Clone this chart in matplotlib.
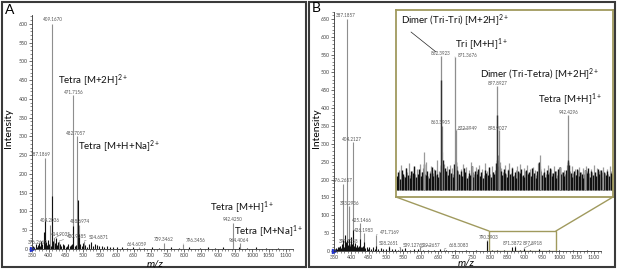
import matplotlib
matplotlib.use('Agg')
import matplotlib.pyplot as plt
from matplotlib.patches import Rectangle, ConnectionPatch
from matplotlib.ticker import MultipleLocator

plt.rcParams['font.family'] = ['Lato', 'DejaVu Sans']
plt.rcParams['mathtext.fontset'] = 'custom'
plt.rcParams['mathtext.rm'] = 'Lato'
plt.rcParams['mathtext.it'] = 'Lato:italic'

# ---- panel A data ----
A_lab_mz = [376.2669, 387.1869, 404.2036, 409.1670, 414.9035, 430.9185, 471.7156, 482.7057,
            488.6974, 504.6871, 664.6059, 739.3462, 796.3456, 942.4250, 964.4064]
A_lab_int = [8, 243, 65, 600, 28, 22, 410, 300, 64, 22, 5, 16, 14, 70, 16]
A_blk_mz = [353, 357, 361, 364, 368, 371, 374, 378, 381, 384, 387.2, 391, 395, 398, 401, 406, 409.2, 412, 417, 420,
            423, 426, 433, 437, 441, 445, 449, 453, 457, 461, 465, 468, 471.7, 476, 479, 484.7, 488.7, 493, 497, 501,
            507, 512, 518, 524, 531, 537, 543, 549, 556, 563, 571, 580, 590, 602, 615, 630, 648, 680, 705, 725,
            760, 785, 815, 845, 870, 890, 915, 960, 985, 1010, 1040, 1075]
A_blk_int = [8, 5, 12, 6, 10, 15, 9, 20, 14, 45, 75, 18, 10, 25, 12, 8, 140, 20, 15, 30,
             10, 18, 12, 8, 14, 10, 6, 9, 12, 7, 10, 14, 60, 8, 10, 130, 40, 12, 8, 15,
             10, 6, 12, 18, 8, 14, 10, 7, 9, 5, 8, 4, 6, 4, 5, 3, 4, 3, 4, 3,
             5, 3, 4, 3, 4, 3, 5, 4, 3, 4, 3, 3]
A_ions = ['Tetra [M+2H]$^{2+}$', 'Tetra [M+H+Na]$^{2+}$', 'Tetra [M+H]$^{1+}$', 'Tetra [M+Na]$^{1+}$']
A_ion_mz = [426.8, 485.8, 875.5, 946.4]
A_ion_int = [448, 272, 109, 45]

# ---- panel B data ----
B_lab_mz = [376.2657, 387.1857, 393.2936, 397.1758, 404.2127, 425.1466, 436.1983, 471.7169,
            508.2651, 539.1276, 599.2657, 668.3083, 790.3903, 871.3872, 897.8918]
B_lab_int = [188, 650, 126, 21, 305, 78, 50, 45, 15, 10, 10, 6, 30, 15, 8]
B_blk_mz = [352, 355, 358, 361, 364, 367, 370, 373, 376.3, 379, 382, 385, 387.2, 390, 393.3, 396, 399, 402, 404.2, 407,
            410, 413, 416, 419, 422, 425.1, 428, 431, 434, 436.2, 440, 444, 448, 452, 457, 462, 467, 471.7, 478, 485,
            492, 500, 508.3, 516, 525, 535, 545, 556, 568, 580, 593, 607, 622, 638, 655, 672, 700, 730, 760, 790.4,
            805, 820, 840, 862, 871.4, 885, 898, 915, 942, 970, 1000, 1040, 1080]
B_blk_int = [5, 8, 6, 12, 10, 15, 8, 20, 30, 12, 45, 25, 30, 18, 35, 14, 40, 20, 60, 15,
             22, 12, 18, 10, 14, 35, 12, 10, 15, 25, 8, 12, 6, 10, 7, 12, 5, 15, 6, 8,
             5, 7, 10, 5, 6, 4, 5, 8, 4, 6, 5, 3, 4, 3, 5, 3, 4, 3, 3, 29,
             4, 3, 4, 12, 12, 4, 5, 3, 6, 3, 3, 2, 3]

# ---- inset (800-1000 zoom) data, relative intensity ----
in_lab_mz = [862.3923, 863.3905, 871.3676, 872.3949, 897.8927, 898.9027, 942.4296]
in_lab_int = [134, 64, 133, 60, 104, 60, 75]
in_dark_mz = [862.3923, 897.8927, 942.4296]
in_dark_int = [110, 75, 30]
in_spike_mz = [852, 882, 924.7, 937, 953, 964]
in_spike_int = [38, 24, 35, 23, 20, 20]
noise_mz = list(range(835, 971))
noise_dark = [14, 18, 11, 20, 16, 13, 22, 15, 12, 19, 17, 24, 13, 16, 21, 14,
              18, 26, 15, 19, 12, 17, 23, 14, 20, 16, 13, 18, 25, 30, 22, 19,
              15, 21, 17, 13, 26, 28, 20, 16, 19, 14, 22, 18, 12, 17, 15, 24,
              13, 19, 16, 21, 14, 18, 12, 20, 17, 15, 23, 13, 18, 16, 27, 30,
              24, 19, 15, 21, 17, 13, 20, 16, 22, 14, 18, 12, 19, 17, 21, 15,
              13, 20, 16, 18, 14, 22, 17, 12, 19, 28, 21, 15, 18, 13, 20, 16,
              22, 14, 17, 19, 12, 21, 23, 16, 18, 14, 20, 28, 25, 17, 13, 19,
              15, 21, 14, 18, 16, 12, 20, 17, 22, 13, 19, 15, 18, 14, 21, 16,
              20, 13, 18, 15, 19, 14, 17, 16]
noise_mz_half = [m + 0.5 for m in noise_mz]
noise_gray = [12, 20, 25, 17, 14, 22, 18, 27, 15, 19, 23, 16, 21, 13, 26, 18,
              22, 16, 28, 14, 19, 24, 17, 21, 15, 30, 19, 23, 38, 26, 20, 24,
              18, 25, 22, 16, 29, 24, 19, 15, 21, 26, 17, 23, 14, 20, 28, 18,
              16, 23, 19, 25, 17, 21, 15, 27, 19, 22, 16, 24, 18, 20, 26, 35,
              28, 22, 18, 25, 16, 21, 27, 17, 23, 15, 20, 24, 18, 26, 14, 22,
              19, 25, 17, 21, 16, 23, 20, 15, 27, 24, 19, 17, 22, 16, 25, 18,
              21, 17, 24, 19, 15, 23, 22, 18, 20, 16, 25, 22, 19, 24, 17, 21,
              15, 20, 23, 18, 22, 16, 24, 19, 17, 21, 18, 25, 16, 22, 19, 20,
              18, 23, 17, 21, 16, 24, 19, 20]
in_ions = ['Dimer (Tri-Tri) [M+2H]$^{2+}$', 'Tri [M+H]$^{1+}$',
           'Dimer (Tri-Tetra) [M+2H]$^{2+}$', 'Tetra [M+H]$^{1+}$']
in_ion_mz = [837.6, 871.5, 887.1, 923.5]
in_ion_int = [169, 145, 115, 90]

origin_mz = [350]
origin_int = [0]

# label offsets in pixels (dx, dy) relative to the peak top
A_dx = [-3, -4, 0, 0.5, 7, 17, 0.3, -1, 1.4, 14.6, -2, 0, 12.8, 0.4, -1]
A_dy = [3, 3, 4.5, 4.5, 4, 4.5, 3, 2.5, 3.3, 3, 2.5, 3, 3.7, 2.8, 2.5]
B_dx = [0, -1.4, 0.5, -1.3, -0.8, 1.7, 0, 13.8, -0.5, 13.4, 10.6, 14.6, 2.3, -2.3, 9.1]
B_dy = [3, 3.3, 2.7, 2.5, 2.8, 2.5, 2.5, 2, 2.3, 2.4, 2.4, 2.9, 2.6, 2.3, 4.5]
in_dx = [0, -1.6, 13, 11.5, 0, -1.3, 0]
in_dy = [2.7, 3.7, 2, 1.7, 2.7, 1.7, 2.7]

W, H = 617, 273
GRAY = '#8e8e8e'
DARK = '#111111'
OLIVE = '#a09a5e'
LABC = '#555555'
ION_FS = 7


def fbox(l, t, r, b):
    return [l / W, 1 - b / H, (r - l) / W, (b - t) / H]


def label_peaks(ax, mz, h, dx, dy):
    for m, v, ox, oy in zip(mz, h, dx, dy):
        arrow = None
        if abs(ox) > 6:
            arrow = dict(arrowstyle='-', lw=0.3, color=LABC, shrinkA=0, shrinkB=0)
        ax.annotate(f'{m:.4f}', (m, v), xytext=(ox, oy), textcoords='offset pixels',
                    ha='center', va='center', fontsize=3.3, color=LABC, arrowprops=arrow,
                    annotation_clip=False)


def style_axes(ax, ytop, ymax_tick):
    for s in ['top', 'right']:
        ax.spines[s].set_visible(False)
    for s in ['left', 'bottom']:
        ax.spines[s].set_linewidth(0.6)
        ax.spines[s].set_color('#333333')
    ax.set_xlim(350, 1120)
    ax.set_ylim(0, ytop)
    ax.set_xticks(range(350, 1101, 50))
    ax.set_yticks(range(0, ymax_tick + 1, 50))
    ax.xaxis.set_minor_locator(MultipleLocator(10))
    ax.yaxis.set_minor_locator(MultipleLocator(10))
    ax.tick_params(which='major', length=2, width=0.5, labelsize=3.8, pad=1.0,
                   colors='#333333', labelcolor='#444444')
    ax.tick_params(which='minor', length=1.2, width=0.4, colors='#333333')
    ax.patch.set_alpha(0)


fig = plt.figure(figsize=(W / 100, H / 100), dpi=100)

# panel frames
for l, r in [(2, 306), (309, 615)]:
    fig.patches.append(Rectangle((l / W, 1 - 267 / H), (r - l) / W, 265 / H, transform=fig.transFigure,
                                 fill=False, ec='#3a3a3a', lw=1.5))

# ---------------- panel A ----------------
axa = fig.add_axes(fbox(32, 14.6, 292.8, 249))
style_axes(axa, 625, 600)
axa.vlines(A_lab_mz, 0, A_lab_int, colors=GRAY, lw=0.8)
axa.vlines(A_blk_mz, 0, A_blk_int, colors=DARK, lw=0.8)
label_peaks(axa, A_lab_mz, A_lab_int, A_dx, A_dy)
for t, m, v in zip(A_ions, A_ion_mz, A_ion_int):
    axa.text(m, v, t, fontsize=ION_FS, ha='left', va='center', color='#111111')
axa.plot(origin_mz, origin_int, marker='>', color='#2233cc', ms=3, clip_on=False)

# ---------------- panel B ----------------
axb = fig.add_axes(fbox(334, 11.8, 601, 251))
style_axes(axb, 670, 650)
axb.vlines(B_lab_mz, 0, B_lab_int, colors=GRAY, lw=0.8)
axb.vlines(B_blk_mz, 0, B_blk_int, colors=DARK, lw=0.8)
label_peaks(axb, B_lab_mz, B_lab_int, B_dx, B_dy)
axb.plot(origin_mz, origin_int, marker='>', color='#2233cc', ms=3, clip_on=False)

zoom_lo, zoom_hi, zoom_top = 797, 990, 56
axb.add_patch(Rectangle((zoom_lo, 0), zoom_hi - zoom_lo, zoom_top, fill=False, ec=OLIVE, lw=1.0))

# inset
axin = fig.add_axes(fbox(396, 10, 613, 197))
axin.set_xlim(834.5, 970.5)
axin.set_ylim(-7, 180)
axin.set_xticks([])
axin.set_yticks([])
for s in axin.spines.values():
    s.set_color(OLIVE)
    s.set_linewidth(1.3)
axin.vlines(noise_mz_half, 0, noise_gray, colors='#9a9a9a', lw=0.9)
axin.vlines(noise_mz, 0, noise_dark, colors=DARK, lw=1.0)
axin.vlines(in_spike_mz, 0, in_spike_int, colors='#9a9a9a', lw=0.9)
axin.vlines(in_lab_mz, 0, in_lab_int, colors=GRAY, lw=0.9)
axin.vlines(in_dark_mz, 0, in_dark_int, colors='#333333', lw=1.0)
label_peaks(axin, in_lab_mz, in_lab_int, in_dx, in_dy)
for t, m, v in zip(in_ions, in_ion_mz, in_ion_int):
    axin.text(m, v, t, fontsize=ION_FS, ha='left', va='center', color='#111111')
axin.annotate('', xy=(859.6, 138), xytext=(843.9, 158),
              arrowprops=dict(arrowstyle='-', lw=0.5, color='#222222', shrinkA=0, shrinkB=0))

for xa, xb in [(zoom_lo, 0), (zoom_hi, 1)]:
    con = ConnectionPatch(xyA=(xa, zoom_top), coordsA=axb.transData, xyB=(xb, 0), coordsB=axin.transAxes,
                          color=OLIVE, lw=1.0)
    fig.add_artist(con)

# labels
fig.text(10 / W, 1 - 10 / H, 'A', fontsize=10, ha='center', va='center')
fig.text(316 / W, 1 - 8 / H, 'B', fontsize=10, ha='center', va='center')
for x in [8, 316]:
    fig.text(x / W, 1 - 128 / H, 'Intensity', rotation=90, fontsize=7.5, ha='center', va='center')
fig.text(155 / W, 1 - 264 / H, 'm/z', fontsize=7.5, style='italic', ha='center', va='center')
fig.text(466 / W, 1 - 263.5 / H, 'm/z', fontsize=7.5, style='italic', ha='center', va='center')

fig.savefig('out.png', dpi=100)
